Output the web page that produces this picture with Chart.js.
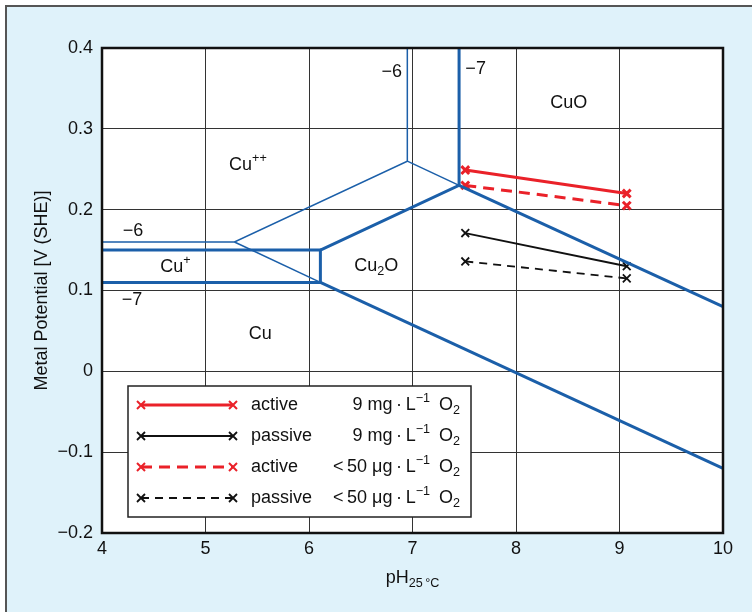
<!DOCTYPE html>
<html>
<head>
<meta charset="utf-8">
<style>
  html, body { margin: 0; padding: 0; background: #fff; }
  canvas { display: block; }
</style>
</head>
<body>
<div>
  <canvas id="myChart" width="752" height="612"></canvas>
</div>

<script src="https://cdn.jsdelivr.net/npm/chart.js"></script>
<script>
  // axis ticks
  const phTicks = [4, 5, 6, 7, 8, 9, 10];
  const potTicks = [-0.2, -0.1, 0, 0.1, 0.2, 0.3, 0.4];

  // Pourbaix boundaries, thin = 10^-6, thick = 10^-7
  const thinUpperPh = [4, 5.28, 6.95, 6.95];
  const thinUpperE  = [0.16, 0.16, 0.26, 0.40];
  const thinCuPh = [5.28, 6.11];
  const thinCuE  = [0.16, 0.11];
  const thinCuOPh = [6.95, 7.45];
  const thinCuOE  = [0.26, 0.23];

  const thickCuPlusPh = [4, 6.11, 6.11, 4];
  const thickCuPlusE  = [0.15, 0.15, 0.11, 0.11];
  const thickCu2OPh = [6.11, 7.45, 7.45];
  const thickCu2OE  = [0.15, 0.23, 0.40];
  const thickCuOPh = [7.45, 10];
  const thickCuOE  = [0.23, 0.08];
  const thickCuPh = [6.11, 10];
  const thickCuE  = [0.11, -0.12];

  // measured potentials
  const measPh = [7.51, 9.07];
  const active9mg  = [0.249, 0.220];
  const passive9mg = [0.171, 0.130];
  const active50ug  = [0.230, 0.205];
  const passive50ug = [0.136, 0.115];

  const legendState = ['active', 'passive', 'active', 'passive'];
  const legendO2 = ['9 mg', '9 mg', '<\u200950 \u03bcg', '<\u200950 \u03bcg'];

  // region labels (pH, E)
  const regionText = [
    [[['\u22126']], 6.80, 0.370],
    [[['\u22127']], 7.61, 0.374],
    [[['CuO']], 8.51, 0.332],
    [[['Cu'], ['++', 'sup']], 5.41, 0.255],
    [[['\u22126']], 4.30, 0.174],
    [[['Cu'], ['+', 'sup']], 4.71, 0.129],
    [[['Cu'], ['2', 'sub'], ['O']], 6.65, 0.130],
    [[['\u22127']], 4.29, 0.088],
    [[['Cu']], 5.53, 0.046]
  ];

  const BLUE = '#1b5fa9';
  const RED = '#ea2129';
  const FONT = '"Liberation Sans", Arial, sans-serif';

  function pts(xs, ys) {
    return xs.map((x, i) => ({ x: x, y: ys[i] }));
  }
  function boundary(xs, ys, w) {
    return { data: pts(xs, ys), showLine: true, borderColor: BLUE, borderWidth: w,
             pointRadius: 0, fill: false, borderJoinStyle: 'miter', clip: 2 };
  }
  function measured(ys, color, dash, w) {
    return { data: pts(measPh, ys), showLine: true, borderColor: color, borderWidth: w,
             borderDash: dash, pointStyle: 'crossRot', pointRadius: 5.5,
             pointBorderColor: color, pointBorderWidth: w, fill: false };
  }

  // draw text with sub/superscripts
  function richWidth(c, parts, size) {
    let w = 0;
    parts.forEach(p => {
      c.font = (p[1] ? size * 0.7 : size) + 'px ' + FONT;
      w += c.measureText(p[0]).width;
    });
    return w;
  }
  function drawRich(c, parts, x, y, size, align) {
    const w = richWidth(c, parts, size);
    let cx = align === 'center' ? x - w / 2 : (align === 'right' ? x - w : x);
    c.textBaseline = 'middle';
    c.textAlign = 'left';
    parts.forEach(p => {
      let dy = 0, s = size;
      if (p[1] === 'sup') { s = size * 0.7; dy = -size * 0.38; }
      if (p[1] === 'sub') { s = size * 0.7; dy = size * 0.3; }
      c.font = s + 'px ' + FONT;
      c.fillText(p[0], cx, y + dy);
      cx += c.measureText(p[0]).width;
    });
  }

  function drawCross(c, x, y, r) {
    c.beginPath();
    c.moveTo(x - r, y - r); c.lineTo(x + r, y + r);
    c.moveTo(x - r, y + r); c.lineTo(x + r, y - r);
    c.stroke();
  }

  const extras = {
    id: 'extras',
    beforeDraw(chart) {
      const c = chart.ctx, a = chart.chartArea;
      c.save();
      c.fillStyle = '#fff';
      c.fillRect(0, 0, chart.width, chart.height);
      c.fillStyle = '#dff2fa';
      c.fillRect(6, 6, chart.width, chart.height);
      c.strokeStyle = '#555';
      c.lineWidth = 2;
      c.beginPath();
      c.moveTo(6, chart.height); c.lineTo(6, 6); c.lineTo(chart.width, 6);
      c.stroke();
      c.fillStyle = '#fff';
      c.fillRect(a.left, a.top, a.right - a.left, a.bottom - a.top);
      c.restore();
    },
    afterDatasetsDraw(chart) {
      const c = chart.ctx, xs = chart.scales.x, ys = chart.scales.y;
      c.save();
      c.fillStyle = '#111';
      regionText.forEach(r => {
        drawRich(c, r[0], xs.getPixelForValue(r[1]), ys.getPixelForValue(r[2]), 18, 'center');
      });
      c.restore();
    },
    afterDraw(chart) {
      const c = chart.ctx, a = chart.chartArea;
      c.save();
      // plot frame
      c.strokeStyle = '#111';
      c.lineWidth = 2.5;
      c.strokeRect(a.left, a.top, a.right - a.left, a.bottom - a.top);

      // legend
      const lx = 128, ly = 386, lw = 343, lh = 131;
      c.fillStyle = '#fff';
      c.fillRect(lx, ly, lw, lh);
      c.strokeStyle = '#222';
      c.lineWidth = 1.5;
      c.strokeRect(lx, ly, lw, lh);
      const colors = [RED, '#111', RED, '#111'];
      const dashes = [[], [], [11, 7], [8, 6]];
      const widths = [3, 1.8, 3, 1.8];
      for (let i = 0; i < 4; i++) {
        const y = ly + 19 + i * 31;
        c.strokeStyle = colors[i];
        c.lineWidth = widths[i];
        c.setLineDash(dashes[i]);
        c.beginPath(); c.moveTo(141, y); c.lineTo(233, y); c.stroke();
        c.setLineDash([]);
        c.lineWidth = widths[i] > 2 ? 2 : 1.8;
        drawCross(c, 141, y, 4);
        drawCross(c, 233, y, 4);
        c.fillStyle = '#111';
        drawRich(c, [[legendState[i]]], 251, y, 18, 'left');
        drawRich(c, [[legendO2[i] + '\u2009\u00b7\u2009L'], ['\u22121', 'sup'], ['\u2002O'], ['2', 'sub']], 460, y, 18, 'right');
      }

      // axis titles
      c.fillStyle = '#111';
      drawRich(c, [['pH'], ['25\u2009\u00b0C', 'sub']], (a.left + a.right) / 2, 578, 18, 'center');
      c.translate(42, (a.top + a.bottom) / 2);
      c.rotate(-Math.PI / 2);
      drawRich(c, [['Metal Potential [V (SHE)]']], 0, 0, 18, 'center');
      c.restore();
    }
  };

  const ctx = document.getElementById('myChart');
  const myChart = new Chart(ctx, {
    type: 'scatter',
    data: {
      datasets: [
        boundary(thinUpperPh, thinUpperE, 1.5),
        boundary(thinCuPh, thinCuE, 1.5),
        boundary(thinCuOPh, thinCuOE, 1.5),
        boundary(thickCuPlusPh, thickCuPlusE, 3),
        boundary(thickCu2OPh, thickCu2OE, 3),
        boundary(thickCuOPh, thickCuOE, 3),
        boundary(thickCuPh, thickCuE, 3),
        measured(active9mg, RED, [], 3),
        measured(active50ug, RED, [11, 7], 3),
        measured(passive9mg, '#111', [], 1.8),
        measured(passive50ug, '#111', [8, 6], 1.8)
      ]
    },
    options: {
      responsive: false,
      animation: false,
      layout: { padding: { left: 0, right: 29, top: 48, bottom: 0 } },
      plugins: { legend: { display: false }, tooltip: { enabled: false } },
      scales: {
        x: {
          type: 'linear', min: 4, max: 10,
          afterBuildTicks: s => { s.ticks = phTicks.map(v => ({ value: v })); },
          afterFit: s => { s.height = 79; },
          grid: { color: '#333', lineWidth: 1, drawTicks: false },
          border: { display: false },
          ticks: { padding: 5, color: '#111', maxRotation: 0, font: { family: FONT, size: 18 } }
        },
        y: {
          type: 'linear', min: -0.2, max: 0.4,
          afterBuildTicks: s => { s.ticks = potTicks.map(v => ({ value: v })); },
          afterFit: s => { s.width = 102; },
          grid: { color: '#333', lineWidth: 1, drawTicks: false },
          border: { display: false },
          ticks: {
            padding: 9, color: '#111', font: { family: FONT, size: 18 },
            callback: v => (v < 0 ? '\u2212' : '') + Math.abs(Math.round(v * 10) / 10)
          }
        }
      }
    },
    plugins: [extras]
  });
</script>
</body>
</html>
